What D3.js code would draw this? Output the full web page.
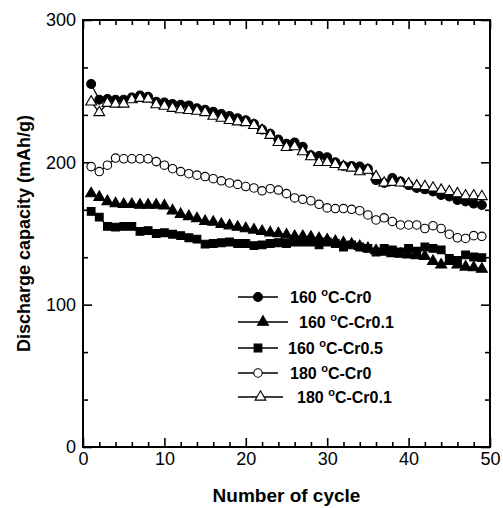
<!DOCTYPE html>
<html>
<head>
<meta charset="utf-8">
<script src="https://cdn.jsdelivr.net/npm/d3@7"></script>
<style>
html,body{margin:0;padding:0;background:#fff;}
svg{display:block;font-family:"Liberation Sans",Arial,sans-serif;}
</style>
</head>
<body>
<svg id="chart" width="503" height="508"></svg>
<script>
const cycles = d3.range(1, 50);
const s160Cr0 = [255,244,244.5,244,244,245.5,247,246,242.5,242,241,240.5,240,238,237,235.5,234,232.5,231,229.5,227,223,220,216,213,214,211,205,204.5,203.5,200,197.5,197.5,197,195.5,187.5,185.5,189,186.5,184,182,181,179.5,177,176,173.5,172.5,171,170];
const s160Cr01 = [178,175.5,172.5,171,170.5,170.5,170,170,170,169.5,166,163.5,162,160.5,158.5,158,156.5,155.5,154.5,153.5,152.5,151.5,150.5,150,149,148,148,147.5,146.5,145.5,144.5,143.5,142.5,141,139.5,138,137,136,135.5,135,134.5,134,130.5,128,130.5,128,126.5,126,125];
const s160Cr05 = [165.5,161.5,155,154.5,155,155,151.5,152,150,150.5,149.5,148.5,147,146,142.5,143,143.5,144,143,143,141.5,142,143,143.5,143,144,144,144,142,144,143,140.5,142,140.5,139.5,137,139.5,138.5,137,139.5,137.5,140.5,139.5,138.5,132.5,131,135,133.5,133];
const s180Cr0 = [197,193.5,198,203,202.5,202.5,202.5,202.5,200.5,198,195.5,193.5,192,191,190,188.5,187,185.5,184.5,183,182,180,181.5,180.5,178,175,174,173,170.5,168,167.5,167.5,167,166,163,159.5,161,158.5,156,156,156,153.5,155.5,153.5,149.5,147,146.5,148.5,148];
const s180Cr01 = [242.5,235,241.5,241,241,244,245,244.5,240.5,239.5,238,237,236.5,236,235,232.5,231,229.5,228.5,228,226,222.5,219,214,210.5,211,207.5,204,200,200,198.5,197,196,193.5,194.5,190,185.5,186,185.5,185,183.5,183,182,180.5,179.5,178,176.5,176.5,176];

const seriesNames = ["160-Cr0", "160-Cr0.1", "160-Cr0.5", "180-Cr0", "180-Cr0.1"];
const xTickLabels = [0, 10, 20, 30, 40, 50];
const yTickLabels = [0, 100, 200, 300];

const series = [
  {name: "160-Cr0.5", values: s160Cr05, sym: d3.symbolSquare, size: 60, fill: "#000"},
  {name: "160-Cr0.1", values: s160Cr01, sym: d3.symbolTriangle, size: 52, fill: "#000"},
  {name: "160-Cr0", values: s160Cr0, sym: d3.symbolCircle, size: 62, fill: "#000"},
  {name: "180-Cr0", values: s180Cr0, sym: d3.symbolCircle, size: 56, fill: "#fff"},
  {name: "180-Cr0.1", values: s180Cr01, sym: d3.symbolTriangle, size: 50, fill: "#fff"}
];

const svg = d3.select("#chart");
const L = 83, R = 490, T = 20, B = 447;
const x = d3.scaleLinear().domain([0, 50]).range([L, R]);
const y = d3.scaleLinear().domain([0, 300]).range([B, T]);

const font = "Liberation Sans, Arial, sans-serif";
const tickFont = 18;

const xMinor = d3.range(0, 51, 2).filter(v => v % 10 !== 0);
const yMinor = d3.range(0, 300, 100/3).filter((v,i) => i % 3 !== 0);

function styleAxis(g){
  g.select(".domain").remove();
  g.selectAll("line").attr("stroke", "#000").attr("stroke-width", 1.6);
  g.selectAll("text").attr("font-family", font).attr("font-size", tickFont).attr("fill", "#000");
}

svg.append("g").attr("transform", `translate(0,${B})`)
  .call(d3.axisBottom(x).tickValues(xTickLabels).tickSize(-9).tickPadding(5).tickFormat(d3.format("d")))
  .call(styleAxis);
svg.append("g").attr("transform", `translate(0,${B})`)
  .call(d3.axisBottom(x).tickValues(xMinor).tickSize(-5).tickFormat(""))
  .call(styleAxis);
svg.append("g").attr("transform", `translate(0,${T})`)
  .call(d3.axisTop(x).tickValues(xTickLabels).tickSize(-9).tickFormat(""))
  .call(styleAxis);
svg.append("g").attr("transform", `translate(0,${T})`)
  .call(d3.axisTop(x).tickValues(xMinor).tickSize(-5).tickFormat(""))
  .call(styleAxis);
svg.append("g").attr("transform", `translate(${L},0)`)
  .call(d3.axisLeft(y).tickValues(yTickLabels).tickSize(-9).tickPadding(7).tickFormat(d3.format("d")))
  .call(styleAxis);
svg.append("g").attr("transform", `translate(${L},0)`)
  .call(d3.axisLeft(y).tickValues(yMinor).tickSize(-5).tickFormat(""))
  .call(styleAxis);
svg.append("g").attr("transform", `translate(${R},0)`)
  .call(d3.axisRight(y).tickValues(yTickLabels).tickSize(-9).tickFormat(""))
  .call(styleAxis);
svg.append("g").attr("transform", `translate(${R},0)`)
  .call(d3.axisRight(y).tickValues(yMinor).tickSize(-5).tickFormat(""))
  .call(styleAxis);

svg.append("rect").attr("x", L).attr("y", T).attr("width", R - L).attr("height", B - T)
  .attr("fill", "none").attr("stroke", "#000").attr("stroke-width", 2);

svg.append("text").attr("x", (L + R) / 2).attr("y", 502).attr("text-anchor", "middle")
  .attr("font-family", font).attr("font-weight", "bold").attr("font-size", 19).text("Number of cycle");
svg.append("text").attr("transform", `translate(30,${(T + B) / 2}) rotate(-90)`).attr("text-anchor", "middle")
  .attr("font-family", font).attr("font-weight", "bold").attr("font-size", 18).text("Discharge capacity (mAh/g)");

const line = d3.line().x((d, i) => x(cycles[i])).y(d => y(d));
series.forEach(s => {
  svg.append("path").datum(s.values).attr("d", line)
    .attr("fill", "none").attr("stroke", "#000").attr("stroke-width", 1.3);
  svg.append("g").selectAll("path").data(s.values).join("path")
    .attr("transform", (d, i) => `translate(${x(cycles[i])},${y(d)})`)
    .attr("d", d3.symbol().type(s.sym).size(s.size))
    .attr("fill", s.fill).attr("stroke", "#000").attr("stroke-width", 1.1);
});

const legendOrder = [
  {label: ["160", "Cr0"], s: series[2], y: 297, x1: 238, x2: 278, tx: 290},
  {label: ["160", "Cr0.1"], s: series[1], y: 322, x1: 238, x2: 288, tx: 299},
  {label: ["160", "Cr0.5"], s: series[0], y: 348, x1: 238, x2: 278, tx: 288},
  {label: ["180", "Cr0"], s: series[3], y: 373, x1: 238, x2: 278, tx: 290},
  {label: ["180", "Cr0.1"], s: series[4], y: 397, x1: 238, x2: 283, tx: 297}
];
legendOrder.forEach(e => {
  const g = svg.append("g");
  g.append("line").attr("x1", e.x1).attr("x2", e.x2).attr("y1", e.y).attr("y2", e.y)
    .attr("stroke", "#000").attr("stroke-width", 1.6);
  g.append("path").attr("transform", `translate(${(e.x1 + e.x2) / 2},${e.y})`)
    .attr("d", d3.symbol().type(e.s.sym).size(e.s.size))
    .attr("fill", e.s.fill).attr("stroke", "#000").attr("stroke-width", 1.1);
  const t = g.append("text").attr("x", e.tx).attr("y", e.y + 6)
    .attr("font-family", font).attr("font-weight", "bold").attr("font-size", 16);
  t.append("tspan").text(e.label[0] + " ");
  t.append("tspan").attr("font-size", 11).attr("dy", -7).text("o");
  t.append("tspan").attr("dy", 7).text("C-" + e.label[1]);
});
</script>
</body>
</html>
